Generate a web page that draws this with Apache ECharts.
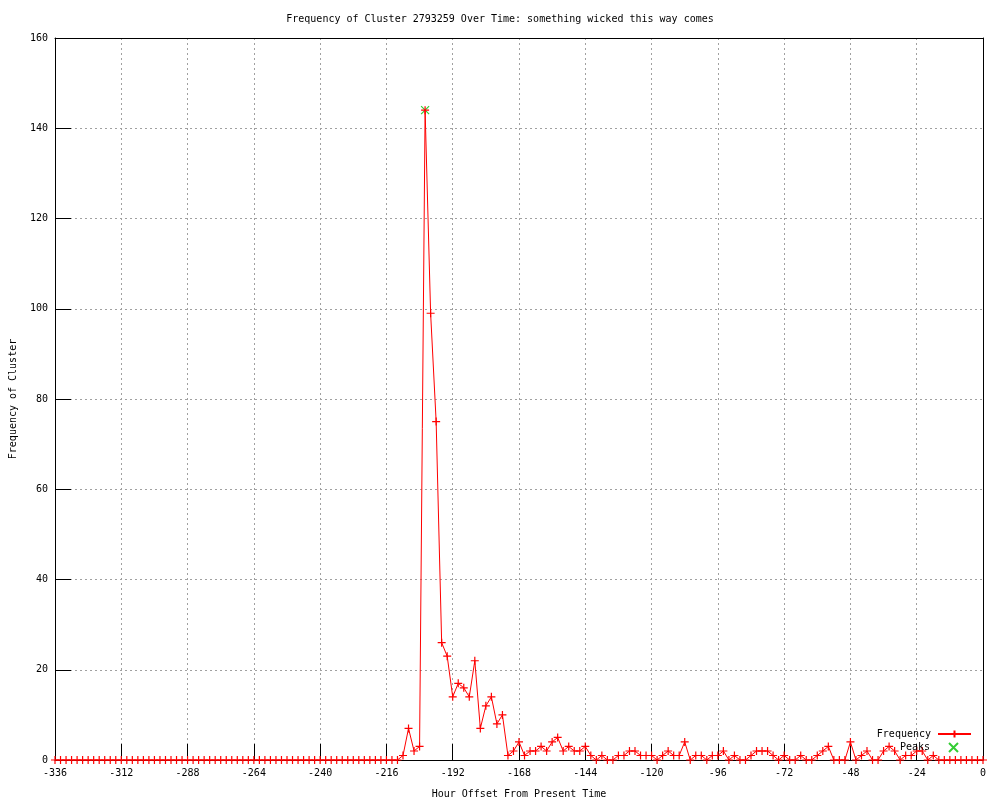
<!DOCTYPE html>
<html>
<head>
<meta charset="utf-8">
<title>Frequency of Cluster 2793259</title>
<script src="https://cdn.jsdelivr.net/npm/echarts@6/dist/echarts.min.js"></script>
<style>
  html, body { margin: 0; padding: 0; background: #fff; }
  #chart { width: 1000px; height: 800px; }
</style>
</head>
<body>
<div id="chart"></div>
<script>
// frequency per 2-hour bucket, one row per 24 hours (-336 .. 0)
var values = [
  0, 0, 0, 0, 0, 0, 0, 0, 0, 0, 0, 0,        // -336
  0, 0, 0, 0, 0, 0, 0, 0, 0, 0, 0, 0,        // -312
  0, 0, 0, 0, 0, 0, 0, 0, 0, 0, 0, 0,        // -288
  0, 0, 0, 0, 0, 0, 0, 0, 0, 0, 0, 0,        // -264
  0, 0, 0, 0, 0, 0, 0, 0, 0, 0, 0, 0,        // -240
  0, 0, 0, 1, 7, 2, 3, 144, 99, 75, 26, 23,  // -216
  14, 17, 16, 14, 22, 7, 12, 14, 8, 10, 1, 2, // -192
  4, 1, 2, 2, 3, 2, 4, 5, 2, 3, 2, 2,        // -168
  3, 1, 0, 1, 0, 0, 1, 1, 2, 2, 1, 1,        // -144
  1, 0, 1, 2, 1, 1, 4, 0, 1, 1, 0, 1,        // -120
  1, 2, 0, 1, 0, 0, 1, 2, 2, 2, 1, 0,        // -96
  1, 0, 0, 1, 0, 0, 1, 2, 3, 0, 0, 0,        // -72
  4, 0, 1, 2, 0, 0, 2, 3, 2, 0, 1, 1,        // -48
  2, 2, 0, 1, 0, 0, 0, 0, 0, 0, 0, 0,        // -24
  0                                          // 0
];
var startHour = -336;
var stepHour = 2;
var hours = values.map(function (v, i) { return startHour + i * stepHour; });

var peakHours = [-202];
var peakValues = [144];

var xMin = -336, xMax = 0, xStep = 24;
var yMin = 0, yMax = 160, yStep = 20;

var font = "DejaVu Sans Mono";
var plus = "path://M0 5 L10 5 M5 0 L5 10";
var cross = "path://M0 0 L10 10 M10 0 L0 10";

var gridLine = { show: true, lineStyle: { color: "#a0a0a0", type: [2, 3], width: 1 } };
var borderLine = { show: true, onZero: false, lineStyle: { color: "#000", width: 1 } };
var tick = { show: true, inside: true, length: 16, lineStyle: { color: "#000" } };

var myChart = echarts.init(document.getElementById("chart"));
myChart.setOption({
  animation: false,
  backgroundColor: "#fff",
  textStyle: { fontFamily: font },
  title: {
    text: "Frequency of Cluster 2793259 Over Time: something wicked this way comes",
    left: "center",
    top: 9,
    textStyle: { fontFamily: font, fontSize: 10, fontWeight: "normal", color: "#000" }
  },
  grid: { left: 55, right: 17, top: 38, bottom: 40, outerBoundsMode: "none" },
  legend: [
    {
      data: ["Frequency"],
      right: 23,
      top: 724,
      align: "right",
      itemWidth: 33,
      itemHeight: 9,
      textStyle: { fontFamily: font, fontSize: 10, color: "#000", padding: [0, 2, 0, 0] }
    },
    {
      data: ["Peaks"],
      right: 36,
      top: 737,
      align: "right",
      itemWidth: 33,
      itemHeight: 9,
      textStyle: { fontFamily: font, fontSize: 10, color: "#000", padding: [0, 2, 0, 0] }
    }
  ],
  xAxis: [
    {
      type: "value",
      min: xMin,
      max: xMax,
      interval: xStep,
      position: "bottom",
      name: "Hour Offset From Present Time",
      nameLocation: "middle",
      nameGap: 29,
      nameTextStyle: { fontFamily: font, fontSize: 10, color: "#000" },
      axisLine: borderLine,
      axisTick: tick,
      axisLabel: { fontFamily: font, fontSize: 10, color: "#000", margin: 8 },
      splitLine: gridLine
    },
    {
      type: "value",
      min: xMin,
      max: xMax,
      position: "top",
      axisLine: borderLine,
      axisTick: { show: false },
      axisLabel: { show: false },
      splitLine: { show: false }
    }
  ],
  yAxis: [
    {
      type: "value",
      min: yMin,
      max: yMax,
      interval: yStep,
      position: "left",
      name: "Frequency of Cluster",
      nameLocation: "middle",
      nameGap: 37,
      nameTextStyle: { fontFamily: font, fontSize: 10, color: "#000" },
      axisLine: borderLine,
      axisTick: tick,
      axisLabel: { fontFamily: font, fontSize: 10, color: "#000", margin: 7 },
      splitLine: gridLine
    },
    {
      type: "value",
      min: yMin,
      max: yMax,
      position: "right",
      axisLine: borderLine,
      axisTick: { show: false },
      axisLabel: { show: false },
      splitLine: { show: false }
    }
  ],
  series: [
    {
      name: "Frequency",
      type: "line",
      data: hours.map(function (h, i) { return [h, values[i]]; }),
      symbol: plus,
      symbolSize: 8,
      showAllSymbol: true,
      clip: false,
      lineStyle: { color: "#ff0000", width: 1 },
      itemStyle: { color: "#ff0000", borderColor: "#ff0000", borderWidth: 1.2 }
    },
    {
      name: "Peaks",
      type: "scatter",
      data: peakHours.map(function (h, i) { return [h, peakValues[i]]; }),
      symbol: cross,
      symbolSize: 8,
      clip: false,
      itemStyle: { color: "#00c000", borderColor: "#00c000", borderWidth: 1.2 }
    }
  ]
});
</script>
</body>
</html>
